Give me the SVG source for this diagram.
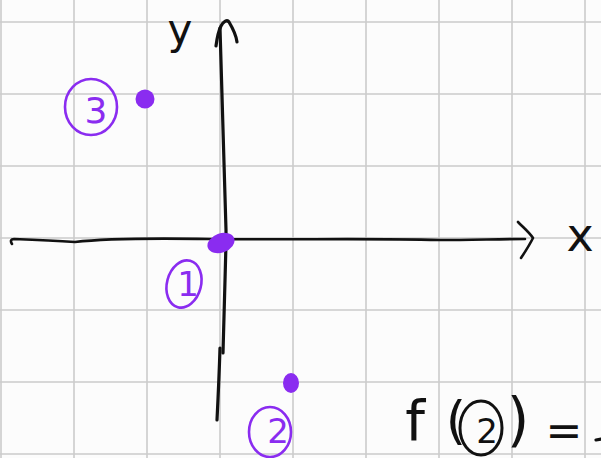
<svg xmlns="http://www.w3.org/2000/svg" width="601" height="458" viewBox="0 0 601 458">
<style>
.grid line{stroke:#cbcbcb;stroke-width:1.6}
.ink{fill:none;stroke:#111;stroke-width:3.2;stroke-linecap:round;stroke-linejoin:round}
.pen{fill:none;stroke:#8a2cf0;stroke-width:2.6;stroke-linecap:round}
.dot{fill:#8a2cf0}
.pt{font-family:"DejaVu Sans",sans-serif;fill:#8a2cf0;text-anchor:middle}
.bk{font-family:"DejaVu Sans",sans-serif;fill:#111;text-anchor:middle}
</style>
<rect width="601" height="458" fill="#fcfcfc"/>
<g class="grid">
<line x1="1" y1="0" x2="1" y2="458"/><line x1="74" y1="0" x2="74" y2="458"/><line x1="147" y1="0" x2="147" y2="458"/><line x1="220" y1="0" x2="220" y2="458"/><line x1="293" y1="0" x2="293" y2="458"/><line x1="366" y1="0" x2="366" y2="458"/><line x1="439" y1="0" x2="439" y2="458"/><line x1="512" y1="0" x2="512" y2="458"/><line x1="585" y1="0" x2="585" y2="458"/>
<line x1="0" y1="22" x2="601" y2="22"/><line x1="0" y1="94" x2="601" y2="94"/><line x1="0" y1="166" x2="601" y2="166"/><line x1="0" y1="238" x2="601" y2="238"/><line x1="0" y1="310" x2="601" y2="310"/><line x1="0" y1="382" x2="601" y2="382"/><line x1="0" y1="454" x2="601" y2="454"/>
</g>
<g id="axes">
<path class="ink" d="M220,28 C221,80 223,150 226,230 L226,243 C225,280 224,320 223,353"/>
<path class="ink" d="M220,348 C219,380 218,400 217,420"/>
<path class="ink" d="M216,46 C217,38 219,30 221,26 C223,22 227,19 229,22 C232,27 236,34 237,42"/>
<path class="ink" style="stroke-width:2.6" d="M12,244 C10,241 11,239 14,239 C40,240 60,241 75,242 C100,239 150,238 210,239 C300,240 360,238 440,240 C470,240 500,239 525,239"/>
<path class="ink" style="stroke-width:2.6" d="M518,222 C524,228 530,233 533,238 C529,246 525,252 521,258"/>
<text class="bk" x="180" y="44" font-size="42">y</text>
<text class="bk" x="580" y="251" font-size="46">x</text>
</g>
<g id="point3">
<circle class="dot" cx="145" cy="99" r="9.5"/>
<ellipse class="pen" cx="91" cy="107" rx="26" ry="28"/>
<text class="pt" x="96" y="123" font-size="36">3</text>
</g>
<g id="point1">
<ellipse class="dot" cx="221" cy="243" rx="14" ry="9.5" transform="rotate(-20 221 243)"/>
<ellipse class="pen" cx="184" cy="284" rx="17" ry="24" transform="rotate(15 184 284)"/>
<text class="pt" x="188" y="296" font-size="34">1</text>
</g>
<g id="point2">
<ellipse class="dot" cx="291" cy="383" rx="8" ry="10"/>
<ellipse class="pen" cx="270" cy="432" rx="21" ry="25"/>
<text class="pt" x="278" y="443" font-size="34">2</text>
</g>
<g id="formula">
<text class="bk" x="415" y="440" font-size="56">f</text>
<text class="bk" x="456" y="438" font-size="52">(</text>
<ellipse fill="none" stroke="#111" stroke-width="3" cx="481" cy="428" rx="21" ry="27"/>
<text class="bk" x="487" y="443" font-size="34">2</text>
<text class="bk" x="518" y="440" font-size="58">)</text>
<text class="bk" x="564" y="446" font-size="44">=</text>
<path class="ink" d="M596,440 L601,439"/>
</g>
</svg>
